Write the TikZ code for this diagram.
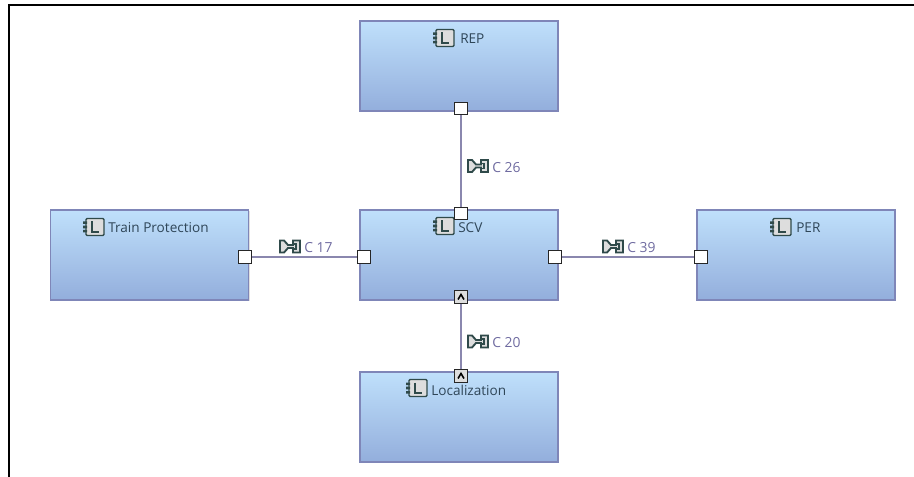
\documentclass[tikz,border=0pt]{standalone}
\usepackage{fontspec}
\setmainfont{Open Sans}
\usetikzlibrary{positioning,calc,shadows}
\definecolor{boxline}{HTML}{7F86B8}
\definecolor{boxtop}{HTML}{BFE0FB}
\definecolor{boxbot}{HTML}{93AEDC}
\definecolor{wire}{HTML}{8A87AE}
\definecolor{linklabel}{HTML}{6F6BA0}
\definecolor{nametext}{HTML}{2F4658}
\definecolor{icongrey}{HTML}{DDDDDD}
\definecolor{iconline}{HTML}{2F4A4A}

\begin{document}
\begin{tikzpicture}[x=.75pt,y=-.75pt,
  compbox/.style={draw=boxline,line width=1.2pt,top color=boxtop,bottom color=boxbot,
    minimum width=148.5pt,minimum height=67.5pt,inner sep=0pt,
    drop shadow={shadow xshift=.8pt,shadow yshift=-.8pt,fill=black!35,opacity=.35}},
  compname/.style={font=\fontsize{10.2}{12}\selectfont,text=nametext,inner sep=0pt,anchor=west},
  portbox/.style={draw=black!85,line width=.9pt,fill=white,minimum size=9.4pt,inner sep=0pt},
  arrowport/.style={portbox,fill=icongrey},
  wireline/.style={draw=wire,line width=1.4pt},
  linkname/.style={font=\fontsize{10.4}{12}\selectfont,text=linklabel,inner sep=0pt,anchor=west},
  frameline/.style={draw=black,line width=1.5pt},
  compicon/.pic={
    \draw[iconline,line width=1.1pt,fill=icongrey,rounded corners=.8pt] (3,-8.5) rectangle (21,8.5);
    \fill[iconline] (0,-5.5) rectangle (4,-3) (0,-1.3) rectangle (4,1.3) (0,3) rectangle (4,5.5);
    \draw[iconline,line width=1.4pt] (9,-5.5) -- (9,5) -- (16,5);
  },
  linkicon/.pic={
    \draw[iconline,line width=1.4pt,fill=icongrey] (1,-6) -- (5,-6) -- (9,-1.5) -- (14,-1.5) -- (14,-6) -- (21,-6)
      -- (21,6) -- (14,6) -- (14,1.5) -- (9,1.5) -- (5,6) -- (1,6) -- cycle;
    \draw[iconline,line width=1pt] (14,-2.5) -- (17,-2.5) -- (17,2.5) -- (14,2.5);
  },
  hatmark/.pic={
    \draw[black,line width=1.2pt] (-3,2.5) -- (0,-2.5) -- (3,2.5);
  }]
  \useasboundingbox (0,0) rectangle (914,477);
  \coordinate (tl) at (9,5);
  \coordinate (tr) at (914,5);
  \coordinate (bl) at (9,477);
  \draw[frameline] (bl) -- (tl) -- (tr);

  % the five boxes
  \node[compbox] (rep) at (459,66) {};
  \node[compbox] (scv) at (459,255) {};
  \node[compbox] (train) at (149.5,255) {};
  \node[compbox] (per) at (796,255) {};
  \node[compbox] (loc) at (459,417) {};

  \pic at (433,38) {compicon};
  \node[compname] (repname) at (460,39) {REP};
  \pic at (433,226) {compicon};
  \node[compname] (scvname) at (458,228) {SCV};
  \pic at (83,227) {compicon};
  \node[compname] (trainname) at (108,228) {Train Protection};
  \pic at (770,227) {compicon};
  \node[compname] (pername) at (796,228) {PER};
  \pic at (406,388) {compicon};
  \node[compname] (locname) at (431,390) {Localization};

  % ports on the box edges
  \node[portbox] (p1) at (461,108.5) {};
  \node[portbox] (p2) at (461,213.5) {};
  \node[portbox] (p3) at (245,257) {};
  \node[portbox] (p4) at (364,257) {};
  \node[portbox] (p5) at (555,257) {};
  \node[portbox] (p6) at (701,257) {};
  \node[arrowport] (p7) at (461,297) {};
  \node[arrowport] (p8) at (461,376) {};
  \pic at (p7) {hatmark};
  \pic at (p8) {hatmark};

  \draw[wireline] (p1) -- (p2);
  \draw[wireline] (p3) -- (p4);
  \draw[wireline] (p5) -- (p6);
  \draw[wireline] (p7) -- (p8);

  \pic at (467,166) {linkicon};
  \node[linkname] (c26) at (492,167.5) {C 26};
  \pic at (279,246.5) {linkicon};
  \node[linkname] (c17) at (304,248) {C 17};
  \pic at (602,246.5) {linkicon};
  \node[linkname] (c39) at (627,248) {C 39};
  \pic at (467,341.5) {linkicon};
  \node[linkname] (c20) at (492,343) {C 20};
\end{tikzpicture}
\end{document}
